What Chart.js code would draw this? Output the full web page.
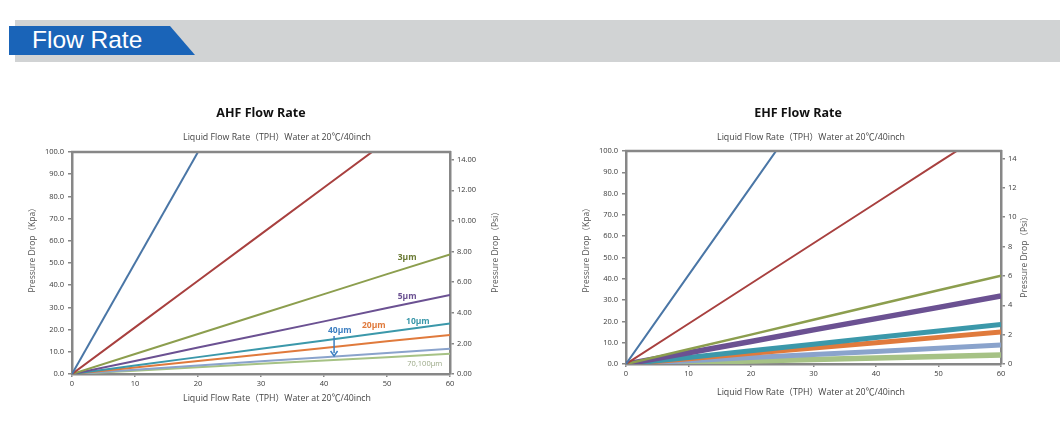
<!DOCTYPE html>
<html>
<head>
<meta charset="utf-8">
<script src="https://cdn.jsdelivr.net/npm/chart.js@4.4.1/dist/chart.umd.min.js"></script>
<style>
  html, body { margin: 0; padding: 0; background: #fff; width: 1060px; height: 441px; overflow: hidden; }
  #bar { position: absolute; left: 15px; top: 20px; width: 1045px; height: 42px; background: #d1d3d4; }
  #tab { position: absolute; left: 9px; top: 26px; width: 186px; height: 29px; background: #1a64b8;
         clip-path: polygon(0 0, 161px 0, 186px 29px, 0 29px); }
  #tabText { position: absolute; left: 32px; top: 24px; font: 24.5px "Liberation Sans", Arial, sans-serif; color: #fff; line-height: 32px; }
  #c1wrap { position: absolute; left: 0; top: 90px; width: 540px; height: 330px; }
  #c2wrap { position: absolute; left: 540px; top: 90px; width: 520px; height: 330px; }
</style>
</head>
<body>
<div id="bar"></div>
<div id="tab"></div>
<div id="tabText">Flow Rate</div>
<div id="c1wrap"><canvas id="c1" width="540" height="330"></canvas></div>
<div id="c2wrap"><canvas id="c2" width="520" height="330"></canvas></div>
<script>
// ---------- data ----------
const flowTPH = [0, 10, 20, 30, 40, 50, 60];
const kpaTicks = [0, 10, 20, 30, 40, 50, 60, 70, 80, 90, 100];
const psiTicks = [0, 2, 4, 6, 8, 10, 12, 14];

// AHF (kPa at each flowTPH)
const ahfLineA = [0, 50, 100];
const ahfLineB = [0, 21, 42, 63, 84, 105, 126];
const ahf3um   = [0, 9.0, 18.0, 27.0, 36.0, 45.0, 53.9];
const ahf5um   = [0, 5.9, 11.9, 17.8, 23.7, 29.7, 35.6];
const ahf10um  = [0, 3.8, 7.6, 11.4, 15.1, 18.9, 22.7];
const ahf20um  = [0, 2.9, 5.9, 8.8, 11.7, 14.7, 17.6];
const ahf40um  = [0, 1.9, 3.8, 5.7, 7.6, 9.5, 11.4];
const ahf70um  = [0, 1.5, 3.0, 4.6, 6.1, 7.6, 9.1];

// EHF (kPa at each flowTPH)
const ehfLineA = [0, 41.7, 83.3, 125];
const ehfLineB = [0, 18.9, 37.8, 56.7, 75.6, 94.5, 113.4];
const ehf3um   = [0, 6.9, 13.8, 20.8, 27.7, 34.6, 41.5];
const ehf5um   = [0, 5.3, 10.6, 16.0, 21.3, 26.6, 31.9];
const ehf10um  = [0, 3.1, 6.2, 9.3, 12.4, 15.5, 18.6];
const ehf20um  = [0, 2.5, 5.0, 7.5, 10.0, 12.5, 15.0];
const ehf40um  = [0, 1.5, 3.0, 4.5, 5.9, 7.4, 8.9];
const ehf70um  = [0, 0.7, 1.4, 2.1, 2.8, 3.5, 4.2];

const ahfLabels = ["3μm", "5μm", "10μm", "20μm", "40μm", "70,100μm"];
const ahfLabelX = [53.2, 53.2, 54.9, 47.9, 42.5, 56.0];
const ahfLabelY = [52.3, 34.7, 23.4, 21.6, 19.4, 4.5];

const KPA_PER_PSI = 6.894757;
const axisTitle = "Liquid Flow Rate（TPH）Water at 20℃/40inch";

// ---------- helpers ----------
const COLORS = {
  blue: '#4a76a6', red: '#a8403f', olive: '#8c9e4e', purple: '#6b5192',
  teal: '#3b98aa', orange: '#e07a3c', bluegray: '#8aa3cc', lightgreen: '#a6c285'
};
const FONT = '"Open Sans", "Noto Sans CJK SC", sans-serif';
const AX = '#878787';

function pts(vals) { return vals.map((v, i) => ({ x: flowTPH[i], y: v })); }
function ds(label, vals, color, w) {
  return { label, data: pts(vals), borderColor: color, backgroundColor: color, borderWidth: w,
           pointRadius: 0, fill: false, tension: 0, yAxisID: 'y' };
}

const frameAndText = {
  id: 'frameAndText',
  afterDatasetsDraw(chart, args, o) {
    const ctx = chart.ctx, a = chart.chartArea;
    ctx.save();
    // top border of the frame
    ctx.strokeStyle = AX; ctx.lineWidth = 2.5;
    ctx.beginPath(); ctx.moveTo(a.left - 1, a.top); ctx.lineTo(a.right + 1, a.top); ctx.stroke();
    // in-plot labels
    if (o.labels) {
      const xs = chart.scales.x, ys = chart.scales.y;
      o.labels.forEach(l => {
        ctx.font = l.font; ctx.fillStyle = l.color; ctx.textAlign = 'center'; ctx.textBaseline = 'middle';
        ctx.fillText(l.text, xs.getPixelForValue(l.x), ys.getPixelForValue(l.y));
      });
    }
    if (o.arrow) {
      const xs = chart.scales.x, ys = chart.scales.y;
      const px = xs.getPixelForValue(o.arrow.x);
      const y1 = ys.getPixelForValue(o.arrow.y1), y2 = ys.getPixelForValue(o.arrow.y2);
      ctx.strokeStyle = o.arrow.color; ctx.fillStyle = o.arrow.color; ctx.lineWidth = 1.5;
      ctx.beginPath(); ctx.moveTo(px, y1); ctx.lineTo(px, y2 - 3); ctx.stroke();
      ctx.beginPath(); ctx.moveTo(px - 3.5, y2 - 5); ctx.lineTo(px, y2); ctx.lineTo(px + 3.5, y2 - 5); ctx.stroke();
    }
    // texts
    (o.texts || []).forEach(t => {
      ctx.save();
      ctx.font = t.font; ctx.fillStyle = t.color; ctx.textAlign = 'center'; ctx.textBaseline = 'middle';
      ctx.translate(t.x, t.y);
      if (t.rot) ctx.rotate(t.rot);
      ctx.fillText(t.text, 0, 0);
      ctx.restore();
    });
    ctx.restore();
  }
};

function makeChart(id, datasets, cfg) {
  const tickFont = { family: FONT, size: 7.5 };
  return new Chart(document.getElementById(id), {
    type: 'line',
    data: { datasets },
    options: {
      responsive: false, animation: false, events: [],
      layout: { padding: { top: cfg.padTop, left: 0, right: 0, bottom: 0 } },
      plugins: {
        legend: { display: false }, title: { display: false }, tooltip: { enabled: false },
        frameAndText: { texts: cfg.texts, labels: cfg.labels, arrow: cfg.arrow }
      },
      scales: {
        x: {
          type: 'linear', min: 0, max: 60,
          afterFit(s) { s.height = cfg.xH; },
          border: { display: true, color: AX, width: 2.5 },
          grid: { display: true, drawOnChartArea: false, drawTicks: true, tickLength: 3, color: AX, lineWidth: 1.5 },
          ticks: { stepSize: 10, font: tickFont, color: '#3a3a3a', padding: 2, maxRotation: 0,
                   callback: v => flowTPH.includes(v) ? String(v) : '' }
        },
        y: {
          type: 'linear', position: 'left', min: 0, max: 100,
          afterFit(s) { s.width = cfg.yW; },
          afterBuildTicks(s) { s.ticks = kpaTicks.map(v => ({ value: v })); },
          border: { display: true, color: AX, width: 2.5 },
          grid: { display: true, drawOnChartArea: false, drawTicks: true, tickLength: 4, color: AX, lineWidth: 1.5 },
          ticks: { font: tickFont, color: '#3a3a3a', padding: 4, callback: v => v.toFixed(1) }
        },
        y2: {
          type: 'linear', position: 'right', min: 0, max: 100 / KPA_PER_PSI,
          afterFit(s) { s.width = cfg.y2W; },
          afterBuildTicks(s) { s.ticks = psiTicks.map(v => ({ value: v })); },
          border: { display: true, color: AX, width: 2.5 },
          grid: { display: true, drawOnChartArea: false, drawTicks: true, tickLength: 4, color: AX, lineWidth: 1.5 },
          ticks: { font: tickFont, color: '#3a3a3a', padding: 3, callback: cfg.psiFmt }
        }
      }
    },
    plugins: [frameAndText]
  });
}

const titleFont = 'bold 12.5px ' + FONT;
const subFont = '8.8px ' + FONT;
const yTitleFont = '8.5px ' + FONT;

// ---------- AHF ----------
makeChart('c1', [
  ds('AHF A', ahfLineA, COLORS.blue, 2),
  ds('AHF B', ahfLineB, COLORS.red, 2),
  ds('3μm', ahf3um, COLORS.olive, 2),
  ds('5μm', ahf5um, COLORS.purple, 2),
  ds('10μm', ahf10um, COLORS.teal, 2),
  ds('20μm', ahf20um, COLORS.orange, 2),
  ds('40μm', ahf40um, COLORS.bluegray, 2),
  ds('70,100μm', ahf70um, COLORS.lightgreen, 2)
], {
  padTop: 62, xH: 46, yW: 72, y2W: 90,
  psiFmt: v => v.toFixed(2),
  texts: [
    { text: 'AHF Flow Rate', x: 261, y: 23, font: titleFont, color: '#111' },
    { text: axisTitle, x: 277, y: 47, font: subFont, color: '#444' },
    { text: axisTitle, x: 277, y: 308, font: subFont, color: '#444' },
    { text: 'Pressure Drop（Kpa）', x: 33, y: 158, rot: -Math.PI / 2, font: yTitleFont, color: '#555' },
    { text: 'Pressure Drop（Psi）', x: 496, y: 160, rot: -Math.PI / 2, font: yTitleFont, color: '#555' }
  ],
  labels: [
    { text: ahfLabels[0], x: ahfLabelX[0], y: ahfLabelY[0], font: 'bold 8.5px ' + FONT, color: '#6a7a34' },
    { text: ahfLabels[1], x: ahfLabelX[1], y: ahfLabelY[1], font: 'bold 8.5px ' + FONT, color: '#6b5192' },
    { text: ahfLabels[2], x: ahfLabelX[2], y: ahfLabelY[2], font: 'bold 8.5px ' + FONT, color: '#3b98aa' },
    { text: ahfLabels[3], x: ahfLabelX[3], y: ahfLabelY[3], font: 'bold 8.5px ' + FONT, color: '#e07a3c' },
    { text: ahfLabels[4], x: ahfLabelX[4], y: ahfLabelY[4], font: 'bold 8.5px ' + FONT, color: '#3d7fc1' },
    { text: ahfLabels[5], x: ahfLabelX[5], y: ahfLabelY[5], font: '7.5px ' + FONT, color: '#9aa886' }
  ],
  arrow: { x: 41.6, y1: 17.1, y2: 8.1, color: '#3d7fc1' }
});

// ---------- EHF ----------
makeChart('c2', [
  ds('EHF A', ehfLineA, COLORS.blue, 2),
  ds('EHF B', ehfLineB, COLORS.red, 2),
  ds('3μm', ehf3um, COLORS.olive, 2.5),
  ds('5μm', ehf5um, COLORS.purple, 5.5),
  ds('10μm', ehf10um, COLORS.teal, 5),
  ds('20μm', ehf20um, COLORS.orange, 5),
  ds('40μm', ehf40um, COLORS.bluegray, 5),
  ds('70,100μm', ehf70um, COLORS.lightgreen, 5.5)
], {
  padTop: 61, xH: 56, yW: 86, y2W: 59,
  psiFmt: v => String(v),
  texts: [
    { text: 'EHF Flow Rate', x: 258, y: 23, font: titleFont, color: '#111' },
    { text: axisTitle, x: 271, y: 47, font: subFont, color: '#444' },
    { text: axisTitle, x: 271, y: 302, font: subFont, color: '#444' },
    { text: 'Pressure Drop（Kpa）', x: 47, y: 158, rot: -Math.PI / 2, font: yTitleFont, color: '#555' },
    { text: 'Pressure Drop（Psi）', x: 485, y: 165, rot: -Math.PI / 2, font: yTitleFont, color: '#555' }
  ]
});
</script>
</body>
</html>
